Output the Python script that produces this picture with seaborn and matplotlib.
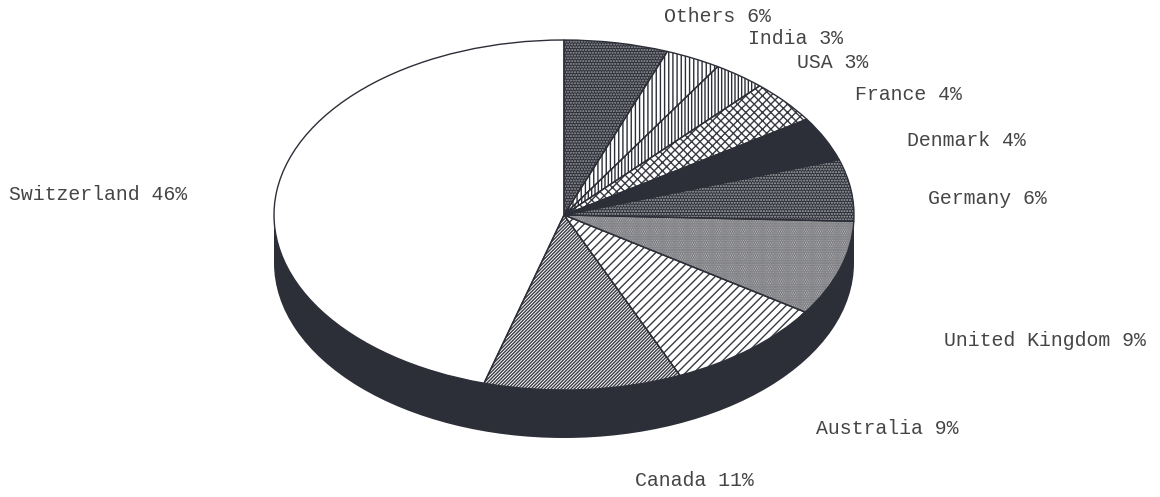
import matplotlib
matplotlib.use('Agg')
import matplotlib.pyplot as plt
import seaborn as sns

countries = ['Others', 'India', 'USA', 'France', 'Denmark', 'Germany',
             'United Kingdom', 'Australia', 'Canada', 'Switzerland']
percent_labels = [6, 3, 3, 4, 4, 6, 9, 9, 11, 46]
# shares, the printed percents are rounded
shares = [5.8, 3.1, 2.9, 4.0, 4.1, 5.7, 8.8, 9.1, 11.0, 45.6]

DARK = '#2d2f38'
face_colors = [DARK, 'white', 'white', 'white', DARK, DARK,
               '#3a3b42', 'white', 'white', 'white']
hatch_colors = ['#9a9ba0', DARK, DARK, '#3a3b42', DARK, '#a8a9ad',
                '#d8d8da', '#3a3b42', '#3a3b42', DARK]
hatches = ['......', '||||', '|||||', 'xxxx', None, '......',
           '.........', '////', '//////////', None]

# left edge and middle height of each label, in image pixels
label_x = [664, 748, 797, 855, 907, 928, 944, 816, 635, 9]
label_y = [17, 39, 63, 95, 140, 198, 340, 429, 481, 194]

W, H = 1160, 497
CX, CY, RX, RY, DEPTH = 564, 215, 290, 175, 48

sns.set_theme(style='white')
plt.rcParams['hatch.linewidth'] = 1.0
plt.rcParams['font.family'] = ['Liberation Mono', 'DejaVu Sans Mono']

fig = plt.figure(figsize=(W / 100, H / 100), dpi=100, facecolor='white')
ax = fig.add_axes([0, 0, 1, 1])

# side wall of the disc
drop = DEPTH / RY
ax.bar(0, drop, width=2, bottom=-drop, color=DARK, linewidth=0)
ax.pie([1], colors=[DARK], center=(0, -drop), startangle=90,
       wedgeprops=dict(linewidth=0))

# top of the disc
wedges, _ = ax.pie(shares, colors=face_colors, startangle=90, counterclock=False,
                   wedgeprops=dict(linewidth=0))
for w, hc, h in zip(wedges, hatch_colors, hatches):
    w.set_edgecolor(hc)
    w.set_hatch(h)

# slice outlines, hatch colour would otherwise set them
ax.pie(shares, startangle=90, counterclock=False,
       wedgeprops=dict(fill=False, edgecolor=DARK, linewidth=1.0))

ax.set_aspect('auto')
ax.set_xlim(-CX / RX, (W - CX) / RX)
ax.set_ylim((CY - H) / RY, CY / RY)
ax.axis('off')

for name, pct, x, y in zip(countries, percent_labels, label_x, label_y):
    fig.text(x / W, 1 - y / H, f'{name} {pct}%', fontsize=14.3, color='#454545',
             ha='left', va='center')

fig.savefig('out.png', dpi=100)
